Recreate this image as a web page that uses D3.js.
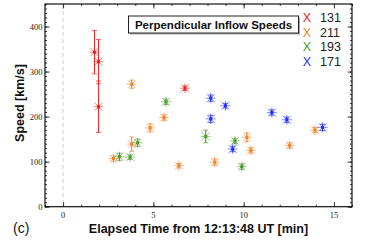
<!DOCTYPE html><html><head><meta charset="UTF-8"><script src="https://d3js.org/d3.v7.min.js"></script><style>
body { margin: 0; background: #fff; }
#chart { width: 366px; height: 240px; }
.tick-label { font-family: "Liberation Serif", serif; font-size: 8.5px; fill: #222; }
.axis-title { font-family: "Liberation Sans", Arial, sans-serif; font-weight: bold; font-size: 12.5px; fill: #111; }
</style></head><body><div id="chart"></div><script>
// wavelength channels
const channels = ["131", "211", "193", "171"];
const colors = ["#ee2020", "#f0842a", "#4c9a2a", "#1f2cff"];

// elapsed time [min], speed [km/s], error [km/s]
const t131 = [1.74, 1.96, 1.96, 6.75];
const v131 = [343, 322, 222, 263];
const e131 = [48, 49, 57, 5];

const t211 = [2.79, 3.8, 3.8, 4.82, 5.59, 6.41, 8.4, 10.18, 10.4, 12.55, 13.95];
const v211 = [107, 139, 272, 175, 198, 91, 99, 154, 125, 136, 170];
const e211 = [6, 16, 9, 9, 6, 5, 7, 10, 6, 6, 6];

const t193 = [3.12, 3.71, 4.13, 5.7, 7.9, 9.52, 9.9];
const v193 = [111, 110, 142, 233, 156, 146, 89];
const e193 = [8, 5, 8, 6, 14, 6, 6];

const t171 = [8.18, 8.18, 8.99, 9.39, 11.56, 12.39, 14.37];
const v171 = [241, 195, 224, 128, 209, 193, 176];
const e171 = [7, 8, 5, 6, 6, 6, 7];

const xTicks = [0, 5, 10, 15];
const yTicks = [0, 100, 200, 300, 400];

const seriesT = [t131, t211, t193, t171];
const seriesV = [v131, v211, v193, v171];
const seriesE = [e131, e211, e193, e171];

const W = 366, H = 240;
const pL = 45, pR = 352, pT = 4, pB = 206.7;

const svg = d3.select('#chart').append('svg')
    .attr('width', W).attr('height', H);

const x = d3.scaleLinear().domain([-1, 16]).range([pL, pR]);
const y = d3.scaleLinear().domain([0, 450]).range([pB, pT]);

// zero line
svg.append('line')
    .attr('x1', x(0)).attr('x2', x(0))
    .attr('y1', y(450)).attr('y2', y(0))
    .attr('stroke', '#d0d0d0').attr('stroke-width', 1)
    .attr('stroke-dasharray', '4,3');

// axes with inward ticks on all four sides
const minorX = d3.range(-1, 17, 1);
const minorY = d3.range(0, 451, 10);

svg.append('g').attr('transform', `translate(0,${pB})`)
    .call(d3.axisBottom(x).tickValues(minorX).tickSize(-2).tickFormat(''));
svg.append('g').attr('transform', `translate(0,${pB})`)
    .call(d3.axisBottom(x).tickValues(xTicks).tickSize(-4.5).tickFormat(''));
svg.append('g').attr('transform', `translate(0,${pT})`)
    .call(d3.axisTop(x).tickValues(minorX).tickSize(-2).tickFormat(''));
svg.append('g').attr('transform', `translate(0,${pT})`)
    .call(d3.axisTop(x).tickValues(xTicks).tickSize(-4.5).tickFormat(''));
svg.append('g').attr('transform', `translate(${pL},0)`)
    .call(d3.axisLeft(y).tickValues(minorY).tickSize(-2).tickFormat(''));
svg.append('g').attr('transform', `translate(${pL},0)`)
    .call(d3.axisLeft(y).tickValues(yTicks).tickSize(-4.5).tickFormat(''));
svg.append('g').attr('transform', `translate(${pR},0)`)
    .call(d3.axisRight(y).tickValues(minorY).tickSize(-2).tickFormat(''));
svg.append('g').attr('transform', `translate(${pR},0)`)
    .call(d3.axisRight(y).tickValues(yTicks).tickSize(-4.5).tickFormat(''));
svg.selectAll('.domain').remove();
svg.selectAll('.tick line').attr('stroke', '#333');

svg.append('rect')
    .attr('x', pL).attr('y', pT)
    .attr('width', pR - pL).attr('height', pB - pT)
    .attr('fill', 'none').attr('stroke', '#111').attr('stroke-width', 1.2);

// tick labels
svg.selectAll('.xl').data(xTicks).enter().append('text')
    .attr('class', 'tick-label')
    .attr('x', d => x(d)).attr('y', 218)
    .attr('text-anchor', 'middle').text(d => d);
svg.selectAll('.yl').data(yTicks).enter().append('text')
    .attr('class', 'tick-label')
    .attr('x', 42.5).attr('y', d => y(d) + 3)
    .attr('text-anchor', 'end').text(d => d);

// data
const pts = svg.append('g');
channels.forEach((ch, i) => {
    const c = colors[i];
    const g = pts.append('g');
    const d = seriesT[i].map((t, j) => ({ t, v: seriesV[i][j], e: seriesE[i][j] }));
    // error bars
    d.forEach(p => {
        const px = x(p.t);
        g.append('line').attr('x1', px).attr('x2', px)
            .attr('y1', y(p.v + p.e)).attr('y2', y(p.v - p.e))
            .attr('stroke', c).attr('stroke-width', 1);
        [p.v + p.e, p.v - p.e].forEach(vv => {
            g.append('line').attr('x1', px - 2.5).attr('x2', px + 2.5)
                .attr('y1', y(vv)).attr('y2', y(vv))
                .attr('stroke', c).attr('stroke-width', 1).attr('stroke-opacity', 0.7);
        });
    });
    // asterisk markers
    d.forEach(p => {
        const px = x(p.t), py = y(p.v);
        const m = g.append('g').attr('transform', `translate(${px},${py})`);
        [[-5, 0, 5, 0], [0, -5, 0, 5], [-4, -4, 4, 4], [-4, 4, 4, -4]]
            .forEach(l => m.append('line')
                .attr('x1', l[0]).attr('y1', l[1]).attr('x2', l[2]).attr('y2', l[3])
                .attr('stroke', c).attr('stroke-width', 1).attr('stroke-opacity', 0.55));
        m.append('rect').attr('x', -1.5).attr('y', -1.5).attr('width', 3).attr('height', 3)
            .attr('fill', c);
    });
});

// title box
svg.append('rect').attr('x', 130).attr('y', 17.5).attr('width', 170).attr('height', 17)
    .attr('fill', '#aaa');
svg.append('rect').attr('x', 128.5).attr('y', 16).attr('width', 170).attr('height', 17)
    .attr('fill', '#fff').attr('stroke', '#222').attr('stroke-width', 1);
svg.append('text').attr('x', 213.5).attr('y', 29)
    .attr('text-anchor', 'middle')
    .style('font-family', '"Liberation Sans", Arial, sans-serif')
    .style('font-weight', 'bold').style('font-size', '11.5px').attr('fill', '#111')
    .text('Perpendicular Inflow Speeds');

// legend
const leg = svg.append('g');
channels.forEach((ch, i) => {
    const ly = 17.5 + i * 14.5;
    leg.append('text').attr('x', 307).attr('y', ly + 4.5)
        .attr('text-anchor', 'middle')
        .style('font-family', '"Liberation Sans", Arial, sans-serif')
        .style('font-size', '12.5px').attr('fill', colors[i]).text('X');
    leg.append('text').attr('x', 320).attr('y', ly + 4.5)
        .style('font-family', '"Liberation Sans", Arial, sans-serif')
        .style('font-size', '12.5px').attr('fill', '#222').text(ch);
});

// axis titles
svg.append('text').attr('class', 'axis-title')
    .attr('transform', 'translate(24,103) rotate(-90)')
    .attr('text-anchor', 'middle').text('Speed [km/s]');
svg.append('text').attr('class', 'axis-title')
    .attr('x', 198.5).attr('y', 233)
    .attr('text-anchor', 'middle').text('Elapsed Time from 12:13:48 UT [min]');

svg.append('text').attr('x', 13).attr('y', 233)
    .style('font-family', '"Liberation Sans", Arial, sans-serif')
    .style('font-size', '14px').attr('fill', '#111').text('(c)');
</script></body></html>
